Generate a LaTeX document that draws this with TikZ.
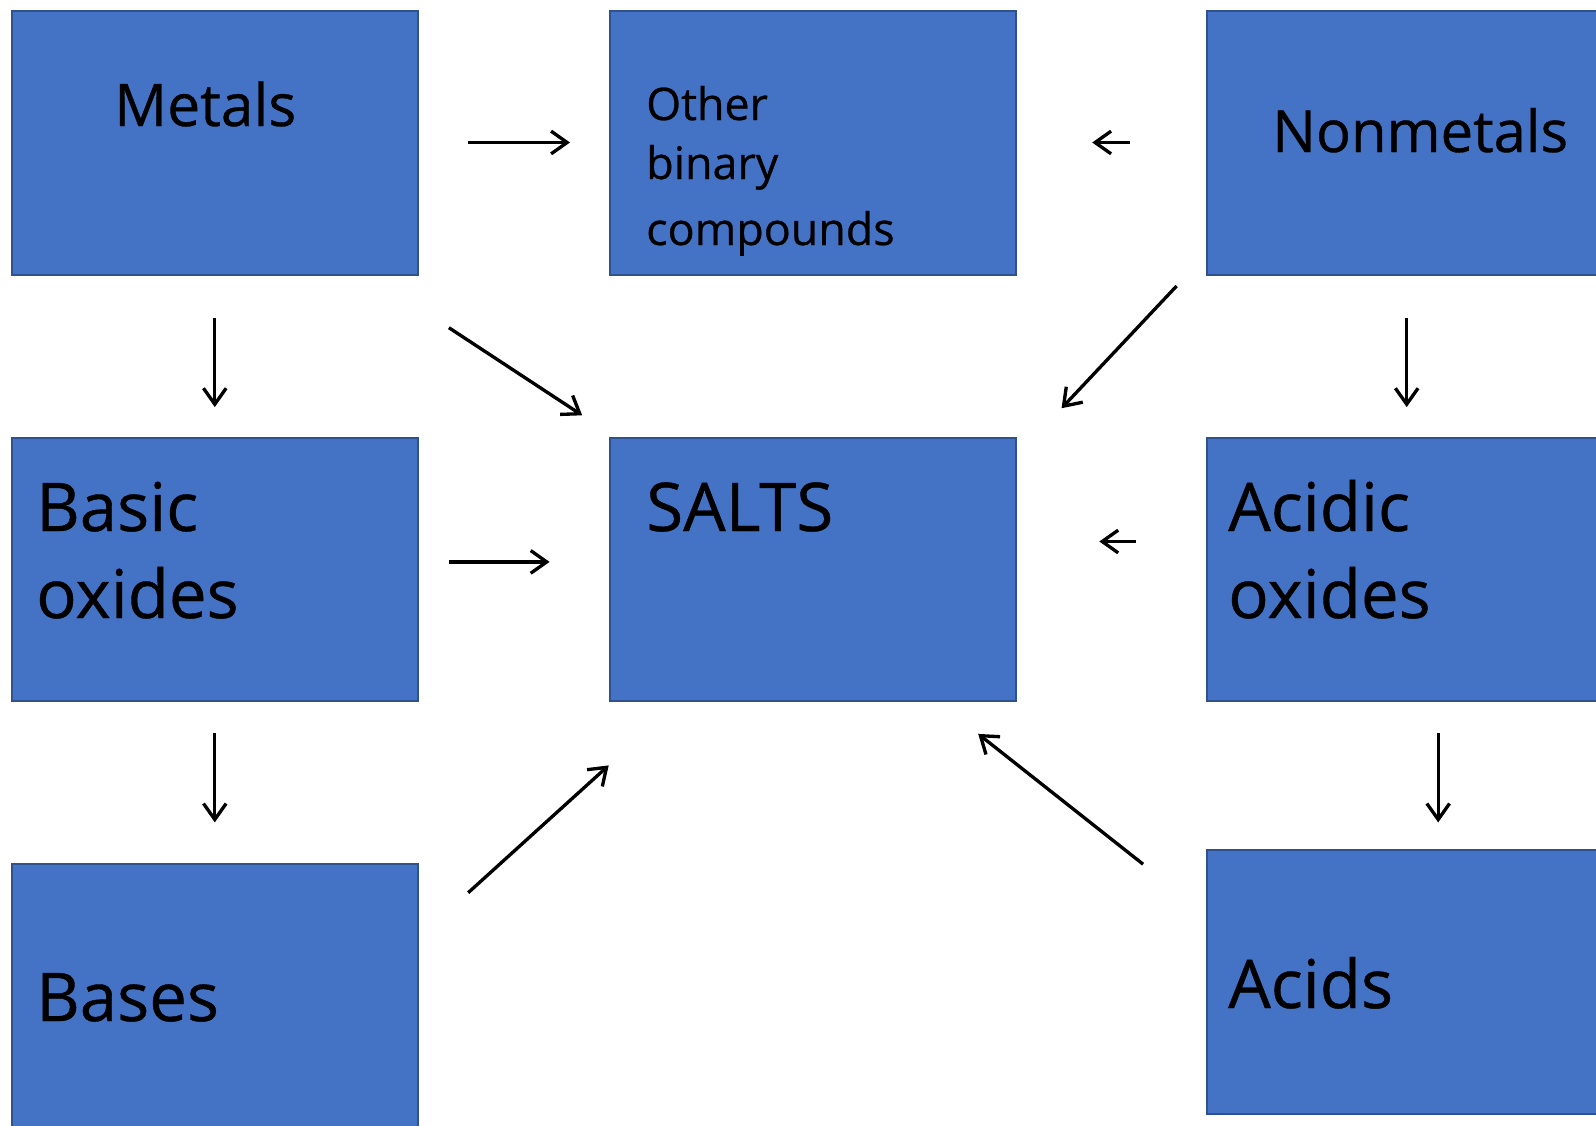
\documentclass[tikz,border=0pt]{standalone}
\usepackage{fontspec}
\setmainfont[FakeBold=0.6]{Open Sans}
\usetikzlibrary{arrows.meta}
\definecolor{boxfill}{HTML}{4472C4}
\definecolor{boxline}{HTML}{2F528F}
\begin{document}
\begin{tikzpicture}[x=0.75pt,y=-0.75pt,
  box/.style={rectangle, fill=boxfill, draw=boxline, line width=1.5pt,
    minimum width=304.5pt, minimum height=197.7pt, inner sep=0pt},
  lbl/.style={anchor=base west, inner sep=0pt, text=black},
  big/.style={font=\fontsize{50.4}{60}\selectfont},
  conn/.style={draw=black, line width=2.5pt,
    -{Straight Barb[length=12pt,width=17pt,line width=2.5pt]}}]
\useasboundingbox (0,0) rectangle (1596,1125);
% boxes
\node[box] (metals) at (215.25,143) {};
\node[box] (other) at (812.75,143) {};
\node[box] (nonmetals) at (1410.25,143) {};
\node[box] (basic) at (215.25,569.5) {};
\node[box] (salts) at (812.75,569.5) {};
\node[box] (acidic) at (1410.25,569.5) {};
\node[box] (bases) at (215.25,996) {};
\node[box] (acids) at (1410.25,981.8) {};
% labels
\node[lbl, font=\fontsize{44}{50}\selectfont] (tmetals) at (114,126) {Metals};
\node[lbl, font=\fontsize{33.6}{40}\selectfont] (tother1) at (646,120) {Other};
\node[lbl, font=\fontsize{33.6}{40}\selectfont] (tother2) at (646,179) {binary};
\node[lbl, font=\fontsize{33.6}{40}\selectfont] (tother3) at (646,245) {compounds};
\node[lbl, font=\fontsize{43.5}{52}\selectfont] (tnonmetals) at (1272,152) {Nonmetals};
\node[lbl, big] (tbasic1) at (36,531) {Basic};
\node[lbl, big] (tbasic2) at (36,618) {oxides};
\node[lbl, big] (tsalts) at (646,531) {SALTS};
\node[lbl, big] (tacidic1) at (1228,531) {Acidic};
\node[lbl, big] (tacidic2) at (1228,618) {oxides};
\node[lbl, big] (tbases) at (36,1021) {Bases};
\node[lbl, big] (tacids) at (1228,1008) {Acids};
% connector end points
\coordinate (a1s) at (468.2,142.5);  \coordinate (a1e) at (570,142.5);
\coordinate (a2s) at (1129.8,142.5); \coordinate (a2e) at (1092.2,142.5);
\coordinate (a3s) at (214.8,317.6);  \coordinate (a3e) at (214.8,407.1);
\coordinate (a4s) at (448.9,327.7);  \coordinate (a4e) at (582.2,415.3);
\coordinate (a5s) at (1176.6,286);   \coordinate (a5e) at (1061.6,408.2);
\coordinate (a6s) at (1406.7,317.6); \coordinate (a6e) at (1406.7,407.1);
\coordinate (a7s) at (448.9,561.9);  \coordinate (a7e) at (549.6,561.9);
\coordinate (a8s) at (1136,541.5);   \coordinate (a8e) at (1099.3,541.5);
\coordinate (a9s) at (214.8,732.9);  \coordinate (a9e) at (214.8,822.4);
\coordinate (a10s) at (1438.2,732.9); \coordinate (a10e) at (1438.2,822.4);
\coordinate (a11s) at (468.2,892.7); \coordinate (a11e) at (608.7,765.4);
\coordinate (a12s) at (1143.1,864.2); \coordinate (a12e) at (978.2,733.9);
% connectors
\draw[conn] (a1s) -- (a1e);
\draw[conn] (a2s) -- (a2e);
\draw[conn] (a3s) -- (a3e);
\draw[conn] (a4s) -- (a4e);
\draw[conn] (a5s) -- (a5e);
\draw[conn] (a6s) -- (a6e);
\draw[conn] (a7s) -- (a7e);
\draw[conn] (a8s) -- (a8e);
\draw[conn] (a9s) -- (a9e);
\draw[conn] (a10s) -- (a10e);
\draw[conn] (a11s) -- (a11e);
\draw[conn] (a12s) -- (a12e);
\end{tikzpicture}
\end{document}
